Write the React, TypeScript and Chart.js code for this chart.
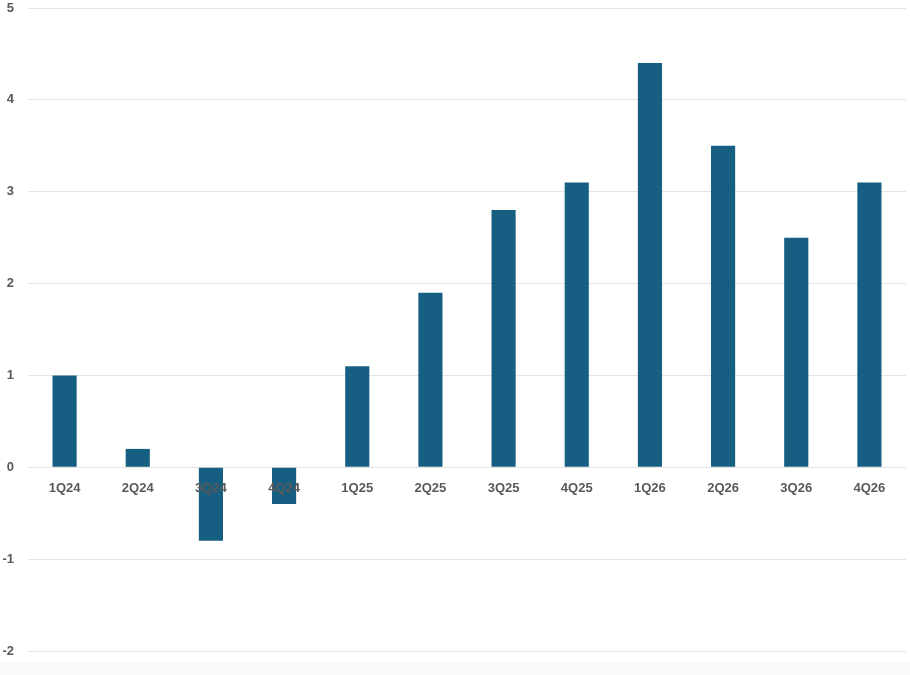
import React, { useEffect, useRef } from "react";
import { Chart, registerables } from "chart.js";

Chart.register(...registerables);

const categories = ["1Q24", "2Q24", "3Q24", "4Q24", "1Q25", "2Q25", "3Q25", "4Q25", "1Q26", "2Q26", "3Q26", "4Q26"];
const values = [1.0, 0.2, -0.8, -0.4, 1.1, 1.9, 2.8, 3.1, 4.4, 3.5, 2.5, 3.1];
const yMin = -2;
const yMax = 5;

export default function App() {
  const ref = useRef<HTMLCanvasElement | null>(null);
  useEffect(() => {
    document.body.style.margin = "0";
    const ctx = ref.current;
    if (!ctx) return;
    const font = { family: "'Liberation Sans', Arial, sans-serif", size: 13, weight: "bold" as const };
    const chart = new Chart(ctx, {
      type: "bar",
      data: {
        labels: categories,
        datasets: [
          {
            data: values,
            backgroundColor: "#165F82",
            borderWidth: 0,
            categoryPercentage: 1,
            barPercentage: 0.33,
          },
        ],
      },
      options: {
        animation: false,
        responsive: false,
        maintainAspectRatio: false,
        layout: { padding: { top: 8, right: 4, bottom: 11, left: 0 } },
        plugins: { legend: { display: false }, tooltip: { enabled: false } },
        scales: {
          x: {
            position: { y: 0 },
            grid: { display: false, drawTicks: false },
            border: { display: false },
            ticks: { color: "#595959", font, padding: 13, maxRotation: 0, autoSkip: false, z: 1 },
            afterFit: (s: any) => {
              s.height = 0;
              s.paddingLeft = 0;
              s.paddingRight = 0;
            },
          },
          y: {
            min: yMin,
            max: yMax,
            grid: { color: "#e4e4e4", lineWidth: 1, drawTicks: false },
            border: { display: false },
            ticks: { stepSize: 1, color: "#595959", font, padding: 14 },
            afterFit: (s: any) => {
              s.width = 28;
              s.paddingTop = 0;
              s.paddingBottom = 0;
            },
          },
        },
      },
    });
    return () => chart.destroy();
  }, []);
  return (
    <div style={{ width: 910, height: 675, position: "relative", background: "#fff" }}>
      <canvas ref={ref} width={910} height={662} style={{ display: "block" }} />
      <div style={{ height: 13, background: "#fafafa" }} />
    </div>
  );
}
